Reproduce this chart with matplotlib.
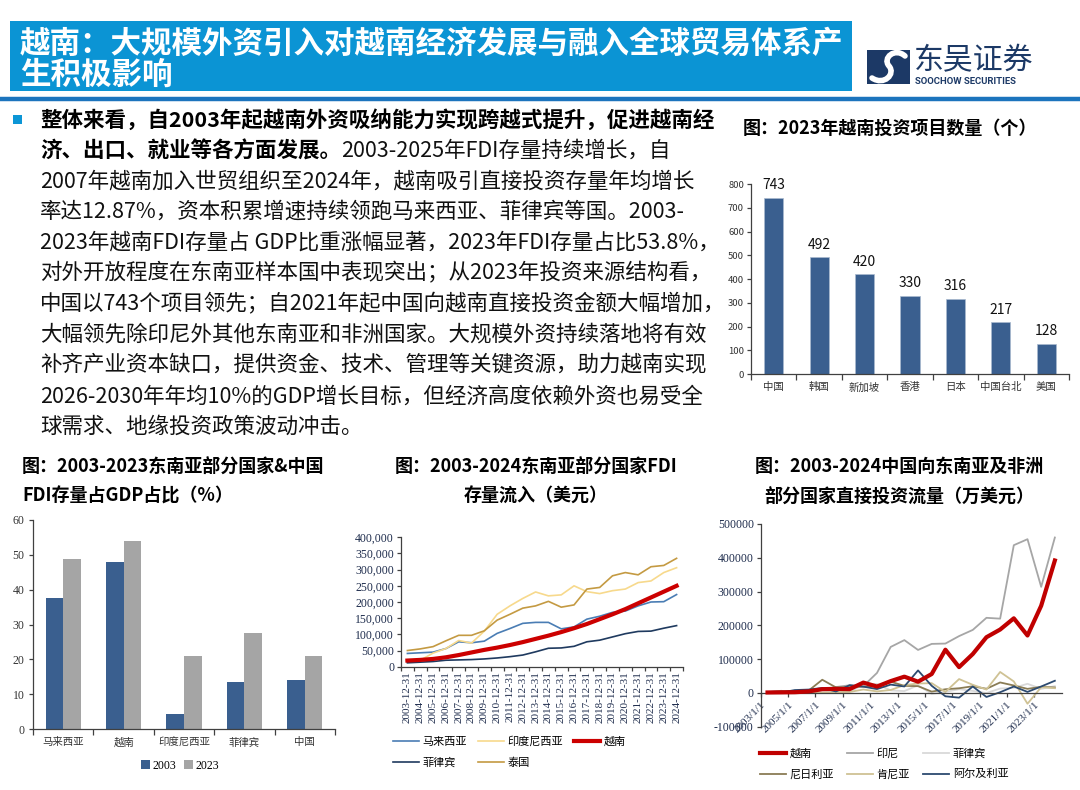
import matplotlib
matplotlib.use('Agg')
import matplotlib.pyplot as plt
from matplotlib.patches import Rectangle, PathPatch
from matplotlib.path import Path
from matplotlib.lines import Line2D
from matplotlib.ticker import FuncFormatter
import numpy as np

plt.rcParams['font.family'] = ['Noto Sans CJK SC', 'DejaVu Sans']
plt.rcParams['axes.unicode_minus'] = False
SERIF = ['Liberation Serif', 'DejaVu Serif']

# ---------------- data ----------------
header_lines = ['越南：大规模外资引入对越南经济发展与融入全球贸易体系产', '生积极影响']
body_lines = [
    ('整体来看，自2003年起越南外资吸纳能力实现跨越式提升，促进越南经', ''),
    ('济、出口、就业等各方面发展。', '2003-2025年FDI存量持续增长，自'),
    ('', '2007年越南加入世贸组织至2024年，越南吸引直接投资存量年均增长'),
    ('', '率达12.87%，资本积累增速持续领跑马来西亚、菲律宾等国。2003-'),
    ('', '2023年越南FDI存量占 GDP比重涨幅显著，2023年FDI存量占比53.8%，'),
    ('', '对外开放程度在东南亚样本国中表现突出；从2023年投资来源结构看，'),
    ('', '中国以743个项目领先；自2021年起中国向越南直接投资金额大幅增加，'),
    ('', '大幅领先除印尼外其他东南亚和非洲国家。大规模外资持续落地将有效'),
    ('', '补齐产业资本缺口，提供资金、技术、管理等关键资源，助力越南实现'),
    ('', '2026-2030年年均10%的GDP增长目标，但经济高度依赖外资也易受全'),
    ('', '球需求、地缘投资政策波动冲击。'),
]

title_proj = '图：2023年越南投资项目数量（个）'
proj_cats = ['中国', '韩国', '新加坡', '香港', '日本', '中国台北', '美国']
proj_counts = [743, 492, 420, 330, 316, 217, 128]

title_share = ['图：2003-2023东南亚部分国家&中国', 'FDI存量占GDP占比（%）']
share_cats = ['马来西亚', '越南', '印度尼西亚', '菲律宾', '中国']
share_2003 = [37.6, 48.0, 4.4, 13.4, 14.0]
share_2023 = [48.8, 54.0, 21.0, 27.6, 20.9]

title_stock = ['图：2003-2024东南亚部分国家FDI', '存量流入（美元）']
stock_years = [2003, 2004, 2005, 2006, 2007, 2008, 2009, 2010, 2011, 2012, 2013,
               2014, 2015, 2016, 2017, 2018, 2019, 2020, 2021, 2022, 2023, 2024]
stock_malaysia = [41000, 43000, 45000, 56000, 77000, 74000, 79000, 103000, 118000, 134000, 137000,
                  137000, 117000, 123000, 147000, 156000, 168000, 172000, 188000, 200000, 201000, 223000]
stock_indonesia = [16000, 20000, 42000, 56000, 81000, 73000, 110000, 162000, 188000, 211000, 231000,
                   219000, 222000, 250000, 232000, 226000, 235000, 240000, 260000, 265000, 291000, 306000]
stock_vietnam = [19000, 21000, 24000, 29000, 36000, 44000, 52000, 59000, 67000, 76000, 86000,
                 96000, 107000, 119000, 132000, 147000, 162000, 178000, 196000, 214000, 232000, 250000]
stock_philippines = [12000, 14000, 16000, 20000, 21000, 22000, 24000, 27000, 31000, 36000, 46000,
                     57000, 58000, 63000, 77000, 82000, 92000, 102000, 109000, 110000, 119000, 127000]
stock_thailand = [50000, 55000, 62000, 80000, 97000, 97000, 111000, 144000, 162000, 181000, 188000,
                  202000, 184000, 191000, 240000, 245000, 281000, 291000, 284000, 309000, 313000, 335000]

title_flow = ['图：2003-2024中国向东南亚及非洲', '部分国家直接投资流量（万美元）']
flow_ticklabels = ['2003/1/1', '2005/1/1', '2007/1/1', '2009/1/1', '2011/1/1', '2013/1/1',
                   '2015/1/1', '2017/1/1', '2019/1/1', '2021/1/1', '2023/1/1']
flow_vietnam = [1300, 1700, 2100, 4400, 11100, 12000, 11200, 30500, 18900, 34900, 48100,
                33300, 56000, 127900, 76400, 115100, 164900, 187600, 220800, 170000, 258000, 392000]
flow_indonesia = [2700, 6200, 1200, 5700, 9900, 17400, 22600, 20100, 59200, 136100, 156300,
                  127200, 145100, 146100, 168200, 186500, 222300, 219800, 437300, 455000, 314000, 460000]
flow_philippines = [100, 0, 500, 900, 500, 3400, 4000, 24400, 26700, 7500, 5400,
                    22500, -2800, 3200, 10900, 5900, -400, 13000, 15000, 27000, 12000, 20000]
flow_nigeria = [2400, 4600, 5300, 6800, 39000, 16300, 17200, 18500, 19700, 33300, 20900,
                20000, 3800, 10800, 13800, 19600, 12300, 31000, 22000, 12000, 18000, 16000]
flow_kenya = [0, 100, 200, 0, 900, 2300, 2800, 10100, 4500, 8700, 23100,
              27800, 28900, 3000, 41000, 24000, 10000, 62000, 34000, -32000, 17000, 14000]
flow_algeria = [250, 1100, 8500, 9900, 14600, 4200, 22900, 18600, 11400, 24600, 19100,
                66600, 21000, -10000, -14000, 19000, -12000, 2000, 19000, 3000, 19000, 36000]

# ---------------- figure ----------------
W, H = 1080, 790
fig = plt.figure(figsize=(W / 100, H / 100), dpi=100)
fig.patch.set_facecolor('white')


def rect(x0, y0, x1, y1):
    return [x0 / W, 1 - y1 / H, (x1 - x0) / W, (y1 - y0) / H]


def fx(x):
    return x / W


def fy(y):
    return 1 - y / H


# header band
fig.add_artist(Rectangle((fx(10), fy(91)), (852 - 10) / W, (91 - 21) / H,
                         transform=fig.transFigure, facecolor='#0b94d4', edgecolor='none'))
fig.text(fx(20), fy(44), header_lines[0], color='white', fontsize=22, fontweight='bold',
         va='center', ha='left')
fig.text(fx(20), fy(75), header_lines[1], color='white', fontsize=22, fontweight='bold',
         va='center', ha='left')
fig.add_artist(Line2D([0, 1], [fy(99), fy(99)], transform=fig.transFigure,
                      color='#1c74bd', lw=3.2))

# logo
NAVY = '#1c3966'
fig.add_artist(Rectangle((fx(867), fy(84)), 43 / W, 34 / H, transform=fig.transFigure,
                         facecolor=NAVY, edgecolor='none'))
sv = [(905, 56), (895, 47), (882, 58), (889, 66), (896, 74), (884, 86), (872, 78)]
sv = [(fx(a), fy(b)) for a, b in sv]
sp = Path(sv, [Path.MOVETO, Path.CURVE4, Path.CURVE4, Path.CURVE4,
               Path.CURVE4, Path.CURVE4, Path.CURVE4])
fig.add_artist(PathPatch(sp, transform=fig.transFigure, facecolor='none',
                         edgecolor='white', lw=4.0, capstyle='round'))
fig.text(fx(914), fy(61), '东吴证券', fontsize=21.5, color=NAVY, va='center', ha='left')
fig.text(fx(915), fy(82), 'SOOCHOW SECURITIES', fontsize=6.8, fontweight='bold',
         color=NAVY, va='center', ha='left', family=['Roboto', 'DejaVu Sans'])

# bullet + body text
fig.add_artist(Rectangle((fx(13), fy(124)), 9 / W, 9 / H, transform=fig.transFigure,
                         facecolor='#0c96d6', edgecolor='none'))
renderer = fig.canvas.get_renderer()
BODY_FS = 15.5
for k, (b, n) in enumerate(body_lines):
    yy = fy(120 + k * 30.7)
    xx = fx(40)
    if b:
        t = fig.text(xx, yy, b, fontsize=BODY_FS, fontweight='bold', color='black', va='center')
        bb = t.get_window_extent(renderer=renderer)
        xx = bb.x1 / fig.bbox.width
    if n:
        fig.text(xx, yy, n, fontsize=BODY_FS, color='#111111', va='center')

# chart titles
TFS = 13
fig.text(fx(890), fy(128), title_proj, fontsize=TFS, fontweight='bold', ha='center', va='center')
fig.text(fx(22), fy(466), title_share[0], fontsize=TFS, fontweight='bold', ha='left', va='center')
fig.text(fx(22), fy(496), title_share[1], fontsize=TFS, fontweight='bold', ha='left', va='center')
fig.text(fx(536), fy(466), title_stock[0], fontsize=TFS, fontweight='bold', ha='center', va='center')
fig.text(fx(536), fy(496), title_stock[1], fontsize=TFS, fontweight='bold', ha='center', va='center')
fig.text(fx(899), fy(466), title_flow[0], fontsize=TFS, fontweight='bold', ha='center', va='center')
fig.text(fx(899), fy(496), title_flow[1], fontsize=TFS, fontweight='bold', ha='center', va='center')

BAR_BLUE = '#3a5f8f'
AX_COL = '#404040'


def style_axes(ax):
    for s in ['top', 'right']:
        ax.spines[s].set_visible(False)
    for s in ['left', 'bottom']:
        ax.spines[s].set_color(AX_COL)
        ax.spines[s].set_linewidth(0.9)


# ---- chart 1: project counts ----
ax1 = fig.add_axes(rect(751, 184, 1069, 374))
x1 = np.arange(len(proj_cats))
ax1.bar(x1, proj_counts, width=0.42, color=BAR_BLUE, edgecolor='#a9bad0', linewidth=0.5)
for i, v in zip(x1, proj_counts):
    ax1.annotate(str(v), (i, v), xytext=(0, 4), textcoords='offset points',
                 ha='center', va='bottom', fontsize=10, color='#111111')
ax1.set_xlim(-0.5, len(proj_cats) - 0.5)
ax1.set_ylim(0, 800)
ax1.set_yticks(np.arange(0, 801, 100))
ax1.set_xticks(x1)
ax1.set_xticklabels(proj_cats, fontsize=7.5, color='#333333')
ax1.set_xticks(np.arange(-0.5, len(proj_cats), 1), minor=True)
ax1.tick_params(axis='x', which='major', length=0, pad=6)
ax1.tick_params(axis='x', which='minor', length=4, width=0.9, color=AX_COL)
ax1.tick_params(axis='y', labelsize=6.8, length=3, width=0.9, color=AX_COL,
                labelcolor='#333333', pad=2)
style_axes(ax1)

# ---- chart 2: FDI stock / GDP ----
ax2 = fig.add_axes(rect(33, 520, 335, 729))
x2 = np.arange(len(share_cats))
b1 = ax2.bar(x2 - 0.145, share_2003, width=0.29, color=BAR_BLUE, label='2003')
b2 = ax2.bar(x2 + 0.145, share_2023, width=0.29, color='#a5a5a5', label='2023')
ax2.set_xlim(-0.5, len(share_cats) - 0.5)
ax2.set_ylim(0, 60)
ax2.set_yticks(np.arange(0, 61, 10))
for lab in ax2.get_yticklabels():
    lab.set_family(SERIF)
ax2.tick_params(axis='y', labelsize=8.5, length=3, width=0.9, color=AX_COL,
                labelcolor='#333333', pad=3)
ax2.set_xticks(x2)
ax2.set_xticklabels(share_cats, fontsize=7.5, color='#333333')
ax2.set_xticks(np.arange(-0.5, len(share_cats), 1), minor=True)
ax2.tick_params(axis='x', which='major', length=0, pad=6)
ax2.tick_params(axis='x', which='minor', length=4, width=0.9, color=AX_COL)
style_axes(ax2)
ax2.legend(handles=[b1, b2], loc='center', bbox_to_anchor=(fx(180), fy(766)),
           bbox_transform=fig.transFigure, ncol=2, frameon=False, handlelength=0.8,
           handleheight=0.8, handletextpad=0.2, columnspacing=0.6,
           prop={'family': SERIF, 'size': 8.5})

# ---- chart 3: FDI stock ----
ax3 = fig.add_axes(rect(401, 537.3, 683, 666.7))
x3 = np.arange(len(stock_years))
l_my, = ax3.plot(x3, stock_malaysia, color='#4a7db4', lw=1.2, label='马来西亚')
l_id, = ax3.plot(x3, stock_indonesia, color='#f7d98c', lw=1.2, label='印度尼西亚')
l_ph, = ax3.plot(x3, stock_philippines, color='#1f3a5f', lw=1.2, label='菲律宾')
l_th, = ax3.plot(x3, stock_thailand, color='#c49a42', lw=1.2, label='泰国')
l_vn, = ax3.plot(x3, stock_vietnam, color='#cc0000', lw=3.0, label='越南')
ax3.set_xlim(-0.5, len(stock_years) - 0.5)
ax3.set_ylim(0, 400000)
ax3.set_yticks(np.arange(0, 400001, 50000))
ax3.yaxis.set_major_formatter(FuncFormatter(lambda v, p: f'{int(v):,}'))
ax3.set_xticks(x3)
ax3.set_xticklabels([f'{y}-12-31' for y in stock_years], rotation=90, fontsize=8,
                    family=SERIF, color='#1f2d4d')
ax3.set_xticks(np.arange(-0.5, len(stock_years), 1), minor=True)
ax3.tick_params(axis='x', which='major', length=0, pad=3)
ax3.tick_params(axis='x', which='minor', length=3, width=0.9, color=AX_COL)
for lab in ax3.get_yticklabels():
    lab.set_family(SERIF)
ax3.tick_params(axis='y', labelsize=8.5, length=3, width=0.9, color=AX_COL,
                labelcolor='#1f2d4d', pad=2)
style_axes(ax3)
ax3.legend(handles=[l_my, l_ph, l_id, l_th, l_vn], loc='upper left',
           bbox_to_anchor=(fx(393), fy(736)), bbox_transform=fig.transFigure,
           ncol=3, frameon=False, handlelength=2.3, handletextpad=0.35,
           columnspacing=1.0, labelspacing=0.95, borderpad=0, borderaxespad=0,
           fontsize=8)

# ---- chart 4: FDI flow ----
ax4 = fig.add_axes(rect(760.7, 524, 1061.7, 726.7))
x4 = np.arange(len(flow_vietnam))
f_vn, = ax4.plot(x4, flow_vietnam, color='#c00000', lw=3.0, label='越南', zorder=5)
f_id, = ax4.plot(x4, flow_indonesia, color='#a6a6a6', lw=1.3, label='印尼')
f_ph, = ax4.plot(x4, flow_philippines, color='#d9d9d9', lw=1.3, label='菲律宾')
f_ng, = ax4.plot(x4, flow_nigeria, color='#8a7c55', lw=1.3, label='尼日利亚')
f_ke, = ax4.plot(x4, flow_kenya, color='#cfc294', lw=1.3, label='肯尼亚')
f_dz, = ax4.plot(x4, flow_algeria, color='#2c4a70', lw=1.3, label='阿尔及利亚')
ax4.set_xlim(-0.5, len(flow_vietnam) - 0.5)
ax4.set_ylim(-100000, 500000)
ax4.set_yticks(np.arange(-100000, 500001, 100000))
ax4.spines['bottom'].set_position(('data', 0))
ax4.set_xticks(np.arange(-0.5, len(flow_vietnam) - 1, 2))
ax4.set_xticklabels(flow_ticklabels, rotation=45, ha='right', rotation_mode='anchor',
                    fontsize=8, family=SERIF, color='#1f2d4d')
ax4.tick_params(axis='x', length=3, width=0.9, color=AX_COL, pad=2)
for lab in ax4.get_yticklabels():
    lab.set_family(SERIF)
ax4.tick_params(axis='y', labelsize=8.5, length=3, width=0.9, color=AX_COL,
                labelcolor='#1f2d4d', pad=2)
style_axes(ax4)
ax4.legend(handles=[f_vn, f_ng, f_id, f_ke, f_ph, f_dz], loc='upper left',
           bbox_to_anchor=(fx(760), fy(748)), bbox_transform=fig.transFigure,
           ncol=3, frameon=False, handlelength=2.3, handletextpad=0.35,
           columnspacing=1.2, labelspacing=0.95, borderpad=0, borderaxespad=0,
           fontsize=8)

fig.savefig('out.png', dpi=100, facecolor='white')
